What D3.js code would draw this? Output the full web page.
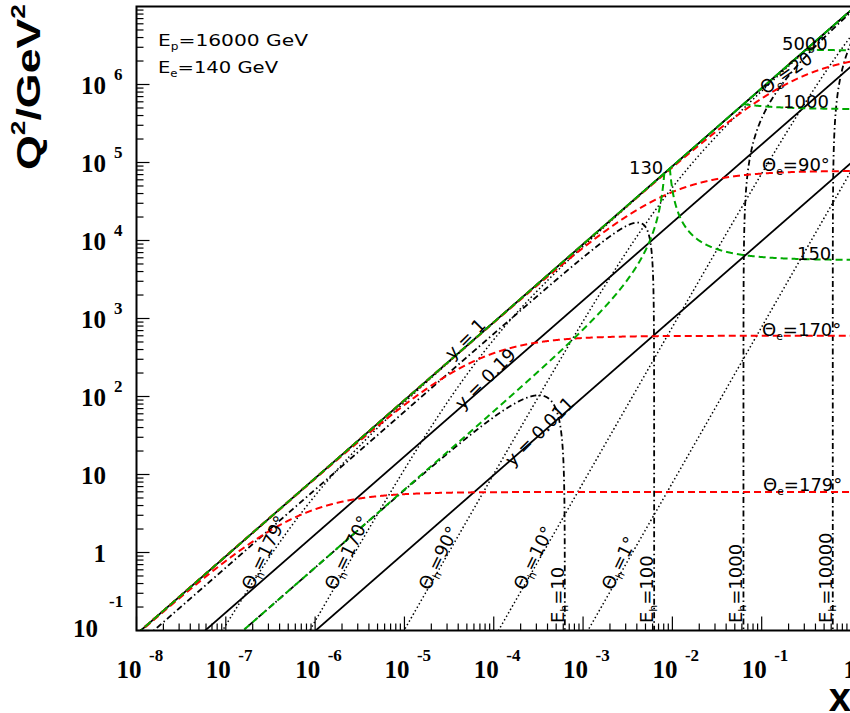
<!DOCTYPE html>
<html><head><meta charset="utf-8">
<script src="https://cdn.jsdelivr.net/npm/d3@7"></script>
<style>body{margin:0;background:#fff} svg{display:block}</style>
</head><body>
<svg id="c" width="850" height="713"></svg>
<script>
// ---- data ----
const Ep = 16000, Ee = 140;               // beam energies (GeV)
const yValues   = [1, 0.19, 0.011];       // lines of constant inelasticity y
const thetaE    = [179, 170, 90, 20];     // electron scattering angles (deg)
const eElectron = [130, 150, 1000, 5000]; // scattered electron energies (GeV)
const thetaH    = [179, 170, 90, 10, 1];  // hadron angles (deg)
const eHadron   = [10, 100, 1000, 10000]; // hadron energies (GeV)
const xTickExp  = [-8, -7, -6, -5, -4, -3, -2, -1, 0];
const yTickExp  = [-1, 0, 1, 2, 3, 4, 5, 6];

// label anchors: [log10 x, log10 Q2]
const yLabelText   = ["y = 1", "y = 0.19", "y = 0.011"];
const yLabelPos    = [[-4.461, 2.462], [-4.349, 1.821], [-3.789, 1.094]];
const thHLabelText = ["179°", "170°", "90°", "10°", "1°"];
const thHLabelPos  = [[-6.703, -0.496], [-5.774, -0.496], [-4.722, -0.496], [-3.658, -0.496], [-2.673, -0.496]];
const eHLabelText  = ["10", "100", "1000", "10000"];
const eHLabelLq    = -0.904;
const thELabelText = ["179°", "170°", "90°", "20°"];
const thELabelPos  = [[-0.985, 0.788], [-0.996, 2.776], [-0.996, 4.891], [-0.956, 5.865]];
const eELabelText  = ["130", "150", "1000", "5000"];
const eELabelPos   = [[-2.486, 4.853], [-0.605, 3.750], [-0.761, 5.699], [-0.773, 6.442]];

const s = 4 * Ep * Ee;

// ---- scales ----
const x = d3.scaleLog().domain([1e-8, 1]).range([136.5, 851]);
const y = d3.scaleLog().domain([0.1, 1e7]).range([630.5, 6.5]);
const X0 = x.range()[0], X1 = x.range()[1], Y0 = y.range()[0], Y1 = y.range()[1];

const svg = d3.select("#c");
svg.append("rect").attr("width", 850).attr("height", 713).attr("fill", "#fff");
svg.append("clipPath").attr("id", "clip").append("rect")
  .attr("x", X0).attr("y", Y1).attr("width", X1 - X0).attr("height", Y0 - Y1);

const base = d3.range(0, 4001).map(i => Math.pow(10, -8 + 8 * i / 4000));
const line = d3.line().x(d => x(d[0])).y(d => y(Math.max(d[1], 1e-3)));
const plot = svg.append("g").attr("clip-path", "url(#clip)");

function curve(pts, stroke, width, dash) {
  plot.append("path").attr("d", line(pts)).attr("fill", "none")
    .attr("stroke", stroke).attr("stroke-width", width)
    .attr("stroke-dasharray", dash || null);
}
function near(x0) {
  const e = [x0];
  for (let k = 0.5; k <= 10; k += 0.25) { e.push(x0 * (1 - Math.pow(10, -k))); e.push(x0 * (1 + Math.pow(10, -k))); }
  return e;
}
function fromY(yfun, extra) {
  const xs = base.concat(extra || []).filter(v => v >= 1e-8 && v <= 1).sort((a, b) => a - b);
  const pts = [];
  xs.forEach(v => { const yy = yfun(v); if (yy >= 0 && yy <= 1 + 1e-9) pts.push([v, s * v * Math.min(yy, 1)]); });
  return pts;
}

// hadron angle lines (dotted)
thetaH.forEach(th => {
  const t2 = Math.pow(Math.tan(th * Math.PI / 360), 2);
  curve(base.map(v => { const A = v * Ep * t2 / Ee; return [v, s * v * A / (1 + A)]; }), "#000", 1.5, "1.5,2.5");
});
// hadron energy lines (dash-dot)
eHadron.forEach(E => {
  const x0 = E / Ep;
  curve(fromY(v => (E - Ep * v) / (Ee - Ep * v), near(x0)), "#000", 1.8, "6,3,1.5,3");
});
// constant y lines
yValues.forEach(yy => curve(base.map(v => [v, s * v * yy]), "#000", 1.8));
// electron angle lines (red dashed)
thetaE.forEach(th => {
  const B = 4 * Ee * Ee / Math.pow(Math.tan(th * Math.PI / 360), 2);
  curve(base.map(v => [v, B * s * v / (B + s * v)]), "#ff0000", 2, "7,4");
});
// scattered electron energy lines (green dashed)
eElectron.forEach(E => {
  const x0 = E / Ep;
  curve(fromY(v => (Ee - E) / (Ee - Ep * v), [x0]), "#00aa00", 2, "7,4");
});
// kinematic limit y = 1 overlay
curve(base.map(v => [v, s * v]), "#00aa00", 2, "8,3");

// ---- frame ----
const fr = svg.append("g").attr("stroke", "#000").attr("stroke-width", 2).attr("fill", "none");
fr.append("path").attr("d", `M${X0},${Y1}H${X1 + 1}M${X0},${Y1 - 1}V${Y0}H${X1}M${X1},${Y1}V${Y0}`);

// ticks
const tk = svg.append("g").attr("stroke", "#000").attr("stroke-width", 1.2);
xTickExp.forEach(e => {
  const px = x(Math.pow(10, e));
  tk.append("line").attr("x1", px).attr("x2", px).attr("y1", Y0).attr("y2", Y0 - 14);
  if (e < 0) for (let m = 2; m <= 9; m++) {
    const pm = x(m * Math.pow(10, e));
    tk.append("line").attr("x1", pm).attr("x2", pm).attr("y1", Y0).attr("y2", Y0 - 7);
  }
});
yTickExp.forEach(e => {
  const py = y(Math.pow(10, e));
  tk.append("line").attr("x1", X0).attr("x2", X0 + 13).attr("y1", py).attr("y2", py);
  for (let m = 2; m <= 9; m++) {
    const pm = y(m * Math.pow(10, e));
    tk.append("line").attr("x1", X0).attr("x2", X0 + 7).attr("y1", pm).attr("y2", pm);
  }
});

// tick labels
const serif = "'Liberation Serif','Times New Roman',serif";
const tl = svg.append("g").attr("font-family", serif).attr("font-weight", "bold").attr("fill", "#000");
xTickExp.forEach(e => {
  const px = x(Math.pow(10, e));
  if (e === 0) {
    tl.append("text").attr("x", px + 5).attr("y", 678).attr("text-anchor", "end").attr("font-size", 25).text("1");
  } else {
    tl.append("text").attr("x", px + 5).attr("y", 678).attr("text-anchor", "end").attr("font-size", 25).text("10");
    tl.append("text").attr("x", px + 12.5).attr("y", 660.5).attr("font-size", 17).text(String(e));
  }
});
yTickExp.forEach(e => {
  const py = y(Math.pow(10, e));
  if (e === -1) {
    tl.append("text").attr("x", 98).attr("y", py + 6).attr("text-anchor", "end").attr("font-size", 25).text("10");
    tl.append("text").attr("x", 109).attr("y", py - 24).attr("font-size", 17).text("-1");
  } else if (e === 0) {
    tl.append("text").attr("x", 106).attr("y", py + 9).attr("text-anchor", "end").attr("font-size", 25).text("1");
  } else if (e === 1) {
    tl.append("text").attr("x", 106).attr("y", py + 9).attr("text-anchor", "end").attr("font-size", 25).text("10");
  } else {
    tl.append("text").attr("x", 106).attr("y", py + 9).attr("text-anchor", "end").attr("font-size", 25).text("10");
    tl.append("text").attr("x", 114).attr("y", py - 4.5).attr("font-size", 17).text(String(e));
  }
});

// axis titles
const sans = "'Liberation Sans',Arial,Helvetica,sans-serif";
svg.append("text").attr("x", 851).attr("y", 711).attr("text-anchor", "end")
  .attr("font-family", sans).attr("font-weight", "bold").attr("font-size", 40).text("x");
const yt = svg.append("text").attr("transform", "translate(40,170) rotate(-90)")
  .attr("font-family", sans).attr("font-weight", "bold").attr("font-size", 34)
  .attr("textLength", 166).attr("lengthAdjust", "spacingAndGlyphs");
yt.append("tspan").text("Q");
yt.append("tspan").attr("font-size", 20).attr("dy", -15).text("2");
yt.append("tspan").attr("dy", 15).text("/GeV");
yt.append("tspan").attr("font-size", 20).attr("dy", -15).text("2");

// ---- annotations ----
const lab = "'DejaVu Sans',Verdana,sans-serif";
function rich(g, px, py, angle, parts, size, opts) {
  const t = g.append("text").attr("transform", `translate(${px},${py}) rotate(${-angle})`)
    .attr("font-family", lab).attr("font-size", size).attr("fill", "#000");
  if (opts && opts.len) t.attr("textLength", opts.len).attr("lengthAdjust", "spacingAndGlyphs");
  let shift = 0;
  parts.forEach(p => {
    const ts = t.append("tspan");
    if (p.sub) { ts.attr("font-size", size * 0.6).attr("dy", size * 0.22 - shift); shift = size * 0.22; }
    else { ts.attr("dy", -shift); shift = 0; }
    ts.text(p.t);
  });
  return t;
}
const ann = svg.append("g");
const P = p => [x(Math.pow(10, p[0])), y(Math.pow(10, p[1]))];

yLabelText.forEach((t, i) => { const [px, py] = P(yLabelPos[i]); rich(ann, px, py, 45, [{t}], 18); });
thHLabelText.forEach((t, i) => { const [px, py] = P(thHLabelPos[i]);
  rich(ann, px, py, 64, [{t: "Θ"}, {t: "h", sub: 1}, {t: "=" + t}], 18); });
eHLabelText.forEach((t, i) => { const px = x(eHadron[i] / Ep) - 1, py = y(Math.pow(10, eHLabelLq));
  rich(ann, px, py, 90, [{t: "E"}, {t: "h", sub: 1}, {t: "=" + t}], 18); });
thELabelText.forEach((t, i) => { const [px, py] = P(thELabelPos[i]);
  rich(ann, px, py, i === 3 ? 35 : 0, [{t: "Θ"}, {t: "e", sub: 1}, {t: "=" + t}], 18); });
eELabelText.forEach((t, i) => { const [px, py] = P(eELabelPos[i]); rich(ann, px, py, 0, [{t}], 18); });

// beam energies
rich(ann, 158, 46, 0, [{t: "E"}, {t: "p", sub: 1}, {t: "=" + Ep + " GeV"}], 16, {len: 150});
rich(ann, 158, 73, 0, [{t: "E"}, {t: "e", sub: 1}, {t: "=" + Ee + " GeV"}], 16, {len: 120});
</script>
</body></html>
